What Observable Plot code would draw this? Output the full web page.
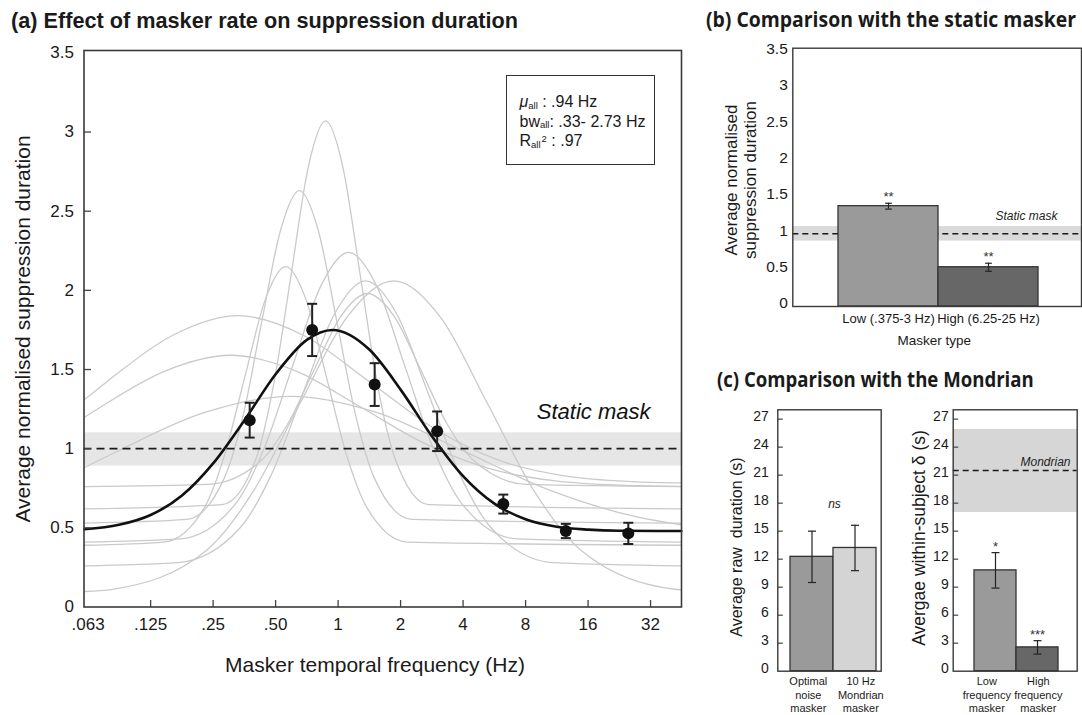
<!DOCTYPE html>
<html><head><meta charset="utf-8">
<script src="https://cdn.jsdelivr.net/npm/d3@7"></script>
<script src="https://cdn.jsdelivr.net/npm/@observablehq/plot@0.6"></script>
<style>
html,body{margin:0;padding:0;background:#fff;}
#fig{position:relative;width:1082px;height:715px;overflow:hidden;font-family:"Liberation Sans",Arial,Helvetica,sans-serif;color:#1a1a1a;}
.abs{position:absolute;}
.title-a{font-weight:bold;font-size:21.7px;line-height:1;white-space:nowrap;transform-origin:0 0;}
.title-bc{font-family:"Open Sans",sans-serif;font-weight:700;font-size:22px;line-height:1;white-space:nowrap;transform-origin:0 0;}
.rot{transform:translate(-50%,-50%) rotate(-90deg);white-space:pre;text-align:center;}
.hlab{transform:translate(-50%,-50%);white-space:nowrap;line-height:1;}
.legend{border:1.5px solid #333;box-sizing:border-box;font-size:16px;line-height:17.5px;padding:17px 0 0 12.5px;white-space:nowrap;}
.sub{position:relative;top:1.5px;font-size:9.5px;}
.sup{position:relative;top:-4.5px;font-size:9.5px;margin-left:1px;}
</style></head>
<body><div id="fig"></div>
<script>
// ================= Panel (a) data =================
const freqTicks = [0.0625, 0.125, 0.25, 0.5, 1, 2, 4, 8, 16, 32];
const freqTickLabels = [".063", ".125", ".25", ".50", "1", "2", "4", "8", "16", "32"];
const normTicks = [0, 0.5, 1, 1.5, 2, 2.5, 3, 3.5];
const maskerFreq = [0.375, 0.75, 1.5, 3, 6.25, 12.5, 25];
const meanSuppression = [1.18, 1.75, 1.405, 1.11, 0.65, 0.48, 0.465];
const errSuppression = [0.11, 0.165, 0.135, 0.125, 0.06, 0.045, 0.067];
// group fit curve
const fitFreq = [0.06, 0.088, 0.125, 0.177, 0.25, 0.354, 0.5, 0.707, 0.94, 1.414, 2, 2.83, 4, 5.66, 8, 11.31, 16, 22.63, 45];
const fitValue = [0.491, 0.519, 0.581, 0.704, 0.907, 1.18, 1.47, 1.687, 1.75, 1.626, 1.373, 1.079, 0.827, 0.653, 0.554, 0.507, 0.489, 0.482, 0.48];
const staticLowA = 0.89, staticMeanA = 1.0, staticHighA = 1.10;
// individual subject fits (grey), [frequency Hz, value]
const subj01 = [[0.06,0.62],[0.277,0.647],[0.406,0.951],[0.491,1.416],[0.595,2.106],[0.719,2.782],[0.871,3.07],[1.053,2.782],[1.275,2.106],[1.542,1.416],[1.866,0.951],[2.732,0.647],[45,0.62]];
const subj02 = [[0.06,0.53],[0.187,0.553],[0.283,0.814],[0.349,1.212],[0.429,1.804],[0.529,2.383],[0.651,2.63],[0.801,2.383],[0.986,1.804],[1.214,1.212],[1.495,0.814],[2.266,0.553],[45,0.53]];
const subj03 = [[0.06,0.39],[0.145,0.41],[0.227,0.628],[0.284,0.961],[0.356,1.457],[0.446,1.943],[0.559,2.15],[0.700,1.943],[0.877,1.457],[1.098,0.961],[1.376,0.628],[2.158,0.41],[45,0.39]];
const subj04 = [[0.06,0.41],[0.173,0.43],[0.323,0.658],[0.441,1.004],[0.603,1.52],[0.824,2.025],[1.125,2.24],[1.537,2.025],[2.099,1.52],[2.868,1.004],[3.918,0.658],[7.311,0.43],[45,0.41]];
const subj05 = [[0.06,0.26],[0.169,0.28],[0.339,0.504],[0.480,0.844],[0.678,1.352],[0.959,1.849],[1.357,2.06],[1.919,1.849],[2.713,1.352],[3.837,0.844],[5.426,0.504],[10.85,0.28],[45,0.26]];
const subj06 = [[0.06,0.098],[0.082,0.112],[0.232,0.357],[0.390,0.73],[0.655,1.285],[1.102,1.829],[1.853,2.06],[3.117,1.829],[5.242,1.285],[8.815,0.73],[14.83,0.357],[41.9,0.112],[45,0.108]];
const subj07 = [[0.06,0.76],[0.236,0.774],[0.426,0.925],[0.572,1.156],[0.768,1.50],[1.032,1.837],[1.385,1.98],[1.860,1.837],[2.497,1.50],[3.352,1.156],[4.500,0.925],[8.111,0.774],[45,0.76]];
const subj08 = [[0.06,1.31],[0.077,1.423],[0.159,1.715],[0.330,1.84],[0.683,1.715],[1.414,1.423],[2.928,1.124],[6.063,0.923],[12.55,0.827],[25.99,0.792],[45,0.784]];
const subj09 = [[0.06,1.198],[0.0718,1.263],[0.1475,1.492],[0.304,1.59],[0.624,1.492],[1.283,1.263],[2.639,1.03],[5.426,0.872],[11.16,0.796],[22.94,0.769],[45,0.762]];
const subj10 = [[0.06,0.881],[0.0866,0.984],[0.226,1.227],[0.591,1.33],[1.542,1.227],[4.028,0.984],[10.52,0.736],[27.47,0.569],[45,0.519]];

// ================= Panel (b) data =================
const maskerType = ["Low (.375-3 Hz)", "High (6.25-25 Hz)"];
const typeMean = [1.38, 0.54];
const typeErr = [0.04, 0.055];
const typeSig = ["**", "**"];
const typeFill = ["#9a9a9a", "#676767"];
const bTicks = [0, 0.5, 1, 1.5, 2, 2.5, 3, 3.5];
const staticLowB = 0.90, staticMeanB = 1.0, staticHighB = 1.10;

// ================= Panel (c) data =================
const c1Cats = ["Optimal\nnoise\nmasker", "10 Hz\nMondrian\nmasker"];
const c1Mean = [12.25, 13.2];
const c1Err = [2.75, 2.43];
const c1Fill = ["#9a9a9a", "#d4d4d4"];
const c2Cats = ["Low\nfrequency\nmasker", "High\nfrequency\nmasker"];
const c2Mean = [10.8, 2.55];
const c2Err = [1.9, 0.72];
const c2Sig = ["*", "***"];
const c2Fill = ["#9a9a9a", "#676767"];
const cTicks = [0, 3, 6, 9, 12, 15, 18, 21, 24, 27];
const mondrianLow = 17.0, mondrianMean = 21.5, mondrianHigh = 25.9;

// ================= helpers =================
const FONT = "'Liberation Sans', Arial, Helvetica, sans-serif";
const capSym = h => ({draw(c){ c.moveTo(-h, 0); c.lineTo(h, 0); }});
const tickR = L => ({draw(c){ c.moveTo(0, 0); c.lineTo(L, 0); }});
const tickU = L => ({draw(c){ c.moveTo(0, 0); c.lineTo(0, -L); }});
const fig = document.getElementById("fig");
function place(el, left, top){ const d = document.createElement("div"); d.className = "abs"; d.style.left = left + "px"; d.style.top = top + "px"; d.appendChild(el); fig.appendChild(d); }
function html(h, cls, style){ const d = document.createElement("div"); d.className = "abs " + cls; d.setAttribute("style", style); d.innerHTML = h; fig.appendChild(d); return d; }
const baseStyle = {fontFamily: FONT, background: "transparent", overflow: "visible", color: "#1a1a1a"};

// ================= Panel (a) =================
const subjectCurves = [subj01, subj02, subj03, subj04, subj05, subj06, subj07, subj08, subj09, subj10];
const subjRows = subjectCurves.flatMap((pts, id) => pts.map(([f, v]) => ({id, f, v})));
const meanRows = maskerFreq.map((f, i) => ({f, m: meanSuppression[i], lo: meanSuppression[i] - errSuppression[i], hi: meanSuppression[i] + errSuppression[i]}));
const fitRows = fitFreq.map((f, i) => ({f, v: fitValue[i]}));
const freqLab = Object.fromEntries(freqTicks.map((t, i) => [t, freqTickLabels[i]]));

const plotA = Plot.plot({
  width: 700, height: 640, marginLeft: 83.5, marginRight: 19, marginTop: 50, marginBottom: 33.5,
  style: baseStyle,
  x: {type: "log", base: 2, domain: [0.0597, 45.1]},
  y: {domain: [0, 3.515]},
  marks: [
    Plot.rect([{lo: staticLowA, hi: staticHighA}], {y1: "lo", y2: "hi", fill: "#e6e6e6"}),
    Plot.line(subjRows, {x: "f", y: "v", z: "id", stroke: "#cacaca", strokeWidth: 1.3, curve: "monotone-x"}),
    Plot.ruleY([staticMeanA], {stroke: "#1a1a1a", strokeWidth: 1.8, strokeDasharray: "8,5"}),
    Plot.line(fitRows, {x: "f", y: "v", stroke: "#111", strokeWidth: 2.6, curve: "monotone-x"}),
    Plot.ruleX(meanRows, {x: "f", y1: "lo", y2: "hi", stroke: "#222", strokeWidth: 2}),
    Plot.dot(meanRows, {x: "f", y: "lo", symbol: capSym(5), stroke: "#222", fill: "none", strokeWidth: 2}),
    Plot.dot(meanRows, {x: "f", y: "hi", symbol: capSym(5), stroke: "#222", fill: "none", strokeWidth: 2}),
    Plot.dot(meanRows, {x: "f", y: "m", r: 6, fill: "#111", stroke: "none"}),
    Plot.text([{t: "Static mask", y: 1.23}], {y: "y", text: "t", frameAnchor: "right", textAnchor: "end", dx: -31, fontSize: 22, fontStyle: "italic", fill: "#111"}),
    Plot.dot(normTicks.slice(1, -1), {y: d => d, frameAnchor: "left", symbol: tickR(7), stroke: "#444", strokeWidth: 1.3, fill: "none"}),
    Plot.dot(freqTicks.slice(1), {x: d => d, frameAnchor: "bottom", symbol: tickU(7), stroke: "#444", strokeWidth: 1.3, fill: "none"}),
    Plot.axisY(normTicks, {tickSize: 0, tickPadding: 10, fontSize: 17, label: null, tickFormat: d => String(d)}),
    Plot.axisX(freqTicks, {tickSize: 0, tickPadding: 10.5, fontSize: 17, label: null, tickFormat: d => freqLab[d]}),
    Plot.frame({stroke: "#3a3a3a", strokeWidth: 1.6})
  ]
});
place(plotA, 0, 0);

// ================= Panel (b) =================
const bRows = maskerType.map((c, i) => ({c, m: typeMean[i], lo: typeMean[i] - typeErr[i], hi: typeMean[i] + typeErr[i], s: typeSig[i], fill: typeFill[i]}));
const plotB = Plot.plot({
  width: 382, height: 360, marginLeft: 92.3, marginRight: 1, marginTop: 47.7, marginBottom: 54,
  style: baseStyle,
  x: {type: "band", domain: maskerType, paddingInner: 0, paddingOuter: 0.433, align: 0.515},
  y: {domain: [0, 3.553]},
  color: {type: "identity"},
  marks: [
    Plot.rect([{lo: staticLowB, hi: staticHighB}], {y1: "lo", y2: "hi", fill: "#d9d9d9"}),
    Plot.ruleY([staticMeanB], {stroke: "#1a1a1a", strokeWidth: 1.5, strokeDasharray: "6,4"}),
    Plot.barY(bRows, {x: "c", y: "m", fill: "fill", stroke: "#333", strokeWidth: 1.3}),
    Plot.ruleX(bRows, {x: "c", y1: "lo", y2: "hi", stroke: "#222", strokeWidth: 1.2}),
    Plot.dot(bRows, {x: "c", y: "lo", symbol: capSym(3.3), stroke: "#222", fill: "none", strokeWidth: 1.2}),
    Plot.dot(bRows, {x: "c", y: "hi", symbol: capSym(3.3), stroke: "#222", fill: "none", strokeWidth: 1.2}),
    Plot.text(bRows, {x: "c", y: "hi", text: "s", dy: -6, fontSize: 13, fill: "#333"}),
    Plot.text([{t: "Static mask", y: 1.24}], {y: "y", text: "t", frameAnchor: "right", textAnchor: "end", dx: -24, fontSize: 12, fontStyle: "italic", fill: "#222"}),
    Plot.axisY(bTicks, {tickSize: 0, tickPadding: 5, fontSize: 15.5, dy: -3, label: null, tickFormat: d => String(d)}),
    Plot.axisX(maskerType, {tickSize: 0, tickPadding: 7, fontSize: 13, label: null}),
    Plot.frame({stroke: "#3a3a3a", strokeWidth: 1.4})
  ]
});
place(plotB, 700, 0);

// ================= Panel (c) =================
function barPanel(cats, means, errs, fills, sigs, opts){
  const rows = cats.map((c, i) => ({c, m: means[i], lo: means[i] - errs[i], hi: means[i] + errs[i], s: sigs ? sigs[i] : "", fill: fills[i]}));
  return Plot.plot({
    width: opts.width, height: 355, marginLeft: opts.ml, marginRight: opts.mr, marginTop: 49.3, marginBottom: 44.3,
    style: baseStyle,
    x: {type: "band", domain: cats, paddingInner: 0, paddingOuter: opts.po, align: opts.align},
    y: {domain: [0, 28]},
    color: {type: "identity"},
    marks: [
      ...(opts.pre || []),
      Plot.barY(rows, {x: "c", y: "m", fill: "fill", stroke: "#333", strokeWidth: 1.3}),
      Plot.ruleX(rows, {x: "c", y1: "lo", y2: "hi", stroke: "#222", strokeWidth: 1.2}),
      Plot.dot(rows, {x: "c", y: "lo", symbol: capSym(4), stroke: "#222", fill: "none", strokeWidth: 1.2}),
      Plot.dot(rows, {x: "c", y: "hi", symbol: capSym(4), stroke: "#222", fill: "none", strokeWidth: 1.2}),
      ...(sigs ? [Plot.text(rows, {x: "c", y: "hi", text: "s", dy: -5.5, fontSize: 13, fill: "#333"})] : []),
      ...(opts.post || []),
      Plot.dot(cTicks.slice(1), {y: d => d, frameAnchor: "left", symbol: tickR(5), stroke: "#444", strokeWidth: 1.2, fill: "none"}),
      Plot.axisY(cTicks, {tickSize: 0, tickPadding: opts.tp, fontSize: 14, dy: -2.5, label: null}),
      Plot.axisX([cats[0]], {tickSize: 0, tickPadding: 4, fontSize: 11, lineHeight: 1.25, dx: opts.dx0, label: null}),
      Plot.axisX([cats[1]], {tickSize: 0, tickPadding: 4, fontSize: 11, lineHeight: 1.25, dx: opts.dx1, label: null}),
      Plot.frame({stroke: "#3a3a3a", strokeWidth: 1.4})
    ]
  });
}
const plotC1 = barPanel(c1Cats, c1Mean, c1Err, c1Fill, null, {
  width: 190, ml: 77.3, mr: 9.3, po: 0.197, align: 0.706, tp: 9, dx0: -3.7, dx1: 5.8,
  post: [Plot.text([{t: "ns", y: 17.9}], {y: "y", text: "t", frameAnchor: "middle", dx: 5, fontSize: 12, fontStyle: "italic", fill: "#222"})]
});
place(plotC1, 700, 360);
const plotC2 = barPanel(c2Cats, c2Mean, c2Err, c2Fill, c2Sig, {
  width: 192, ml: 62.7, mr: 5.3, po: 0.447, align: 0.538, tp: 4.5, dx0: -8.7, dx1: 0.8,
  pre: [
    Plot.rect([{lo: mondrianLow, hi: mondrianHigh}], {y1: "lo", y2: "hi", fill: "#d6d6d6"}),
    Plot.ruleY([mondrianMean], {stroke: "#1a1a1a", strokeWidth: 1.5, strokeDasharray: "6,4"}),
    Plot.text([{t: "Mondrian", y: 22.4}], {y: "y", text: "t", frameAnchor: "right", textAnchor: "end", dx: -6.7, fontSize: 12, fontStyle: "italic", fill: "#222"})
  ]
});
place(plotC2, 890, 360);

// ================= Titles, labels, legend =================
const tA = html("(a) Effect of masker rate on suppression duration", "title-a", "left:11px;top:9.6px;");
const tB = html("(b) Comparison with the static masker", "title-bc", "left:706px;top:6.5px;");
const tC = html("(c) Comparison with the Mondrian", "title-bc", "left:716.7px;top:366.5px;");
html("Average normalised suppression duration", "rot", "left:22px;top:329px;font-size:21px;line-height:1;");
html("Masker temporal frequency (Hz)", "hlab", "left:375px;top:664px;font-size:21px;");
html("Average normalised\nsuppression duration", "rot", "left:742.4px;top:180px;font-size:17px;line-height:18.7px;");
html("Masker type", "hlab", "left:934.3px;top:340.7px;font-size:13.5px;");
html("Average raw  duration (s)", "rot", "left:736.7px;top:546.7px;font-size:16px;line-height:1;");
html("Avergae within-subject \u03b4 (s)", "rot", "left:920px;top:538px;font-size:17.5px;line-height:1;");
html('<i>\u03bc</i><span class="sub">all</span> : .94 Hz<br>bw<span class="sub">all</span>: .33- 2.73 Hz<br>R<span class="sub">all</span><span class="sup">2</span> : .97',
  "legend", "left:506px;top:75px;width:149px;height:90px;");

function fit(el, target){ el.style.transform = "none"; const w = el.getBoundingClientRect().width; if (w > 0) el.style.transform = `scaleX(${target / w})`; }
function fitAll(){ fit(tA, 507); fit(tB, 370); fit(tC, 316.7); }
fitAll();
if (document.fonts && document.fonts.ready) document.fonts.ready.then(fitAll);
</script>
</body></html>
